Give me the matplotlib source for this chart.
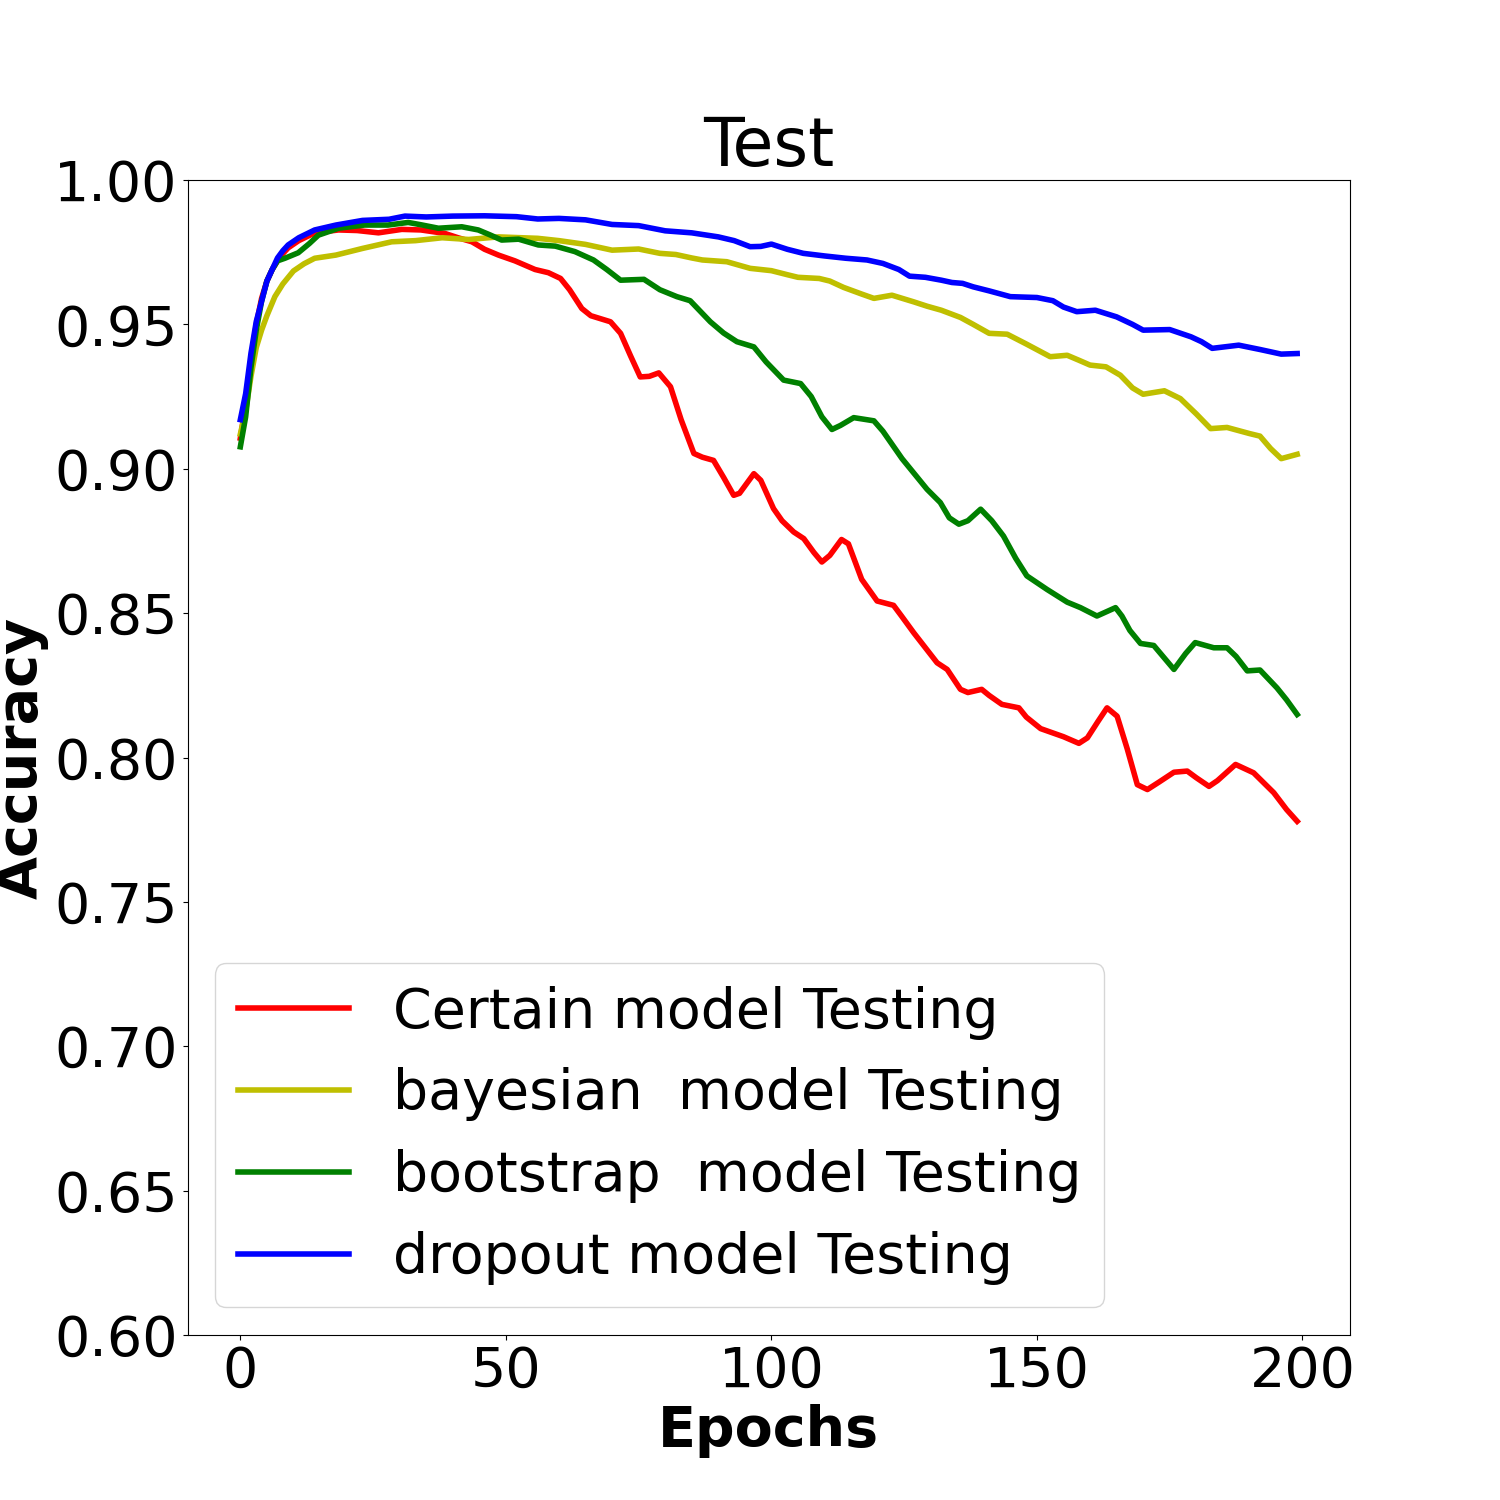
import matplotlib
matplotlib.use("Agg")
import matplotlib.pyplot as plt

# epochs / accuracy
certain_ep = [0, 1, 2, 3, 4, 5, 6, 7, 8, 9, 11, 14, 18.5, 22, 26, 30.4, 34, 38.5, 41, 43.6,
              46, 48.6, 51.7, 55.5, 58, 60.3, 62, 64.3, 66, 69.7, 71.6, 73.5, 75.3, 77, 78.8,
              81, 83, 85.4, 87, 89.1, 91, 92.9, 94, 96.7, 98, 100.4, 102, 104.2, 106.1, 108,
              109.5, 111, 113.2, 114.5, 117, 119.9, 123, 124.5, 126.8, 129, 131.2, 133.1,
              135.6, 137, 139.6, 141, 143.4, 146.6, 148, 150.7, 155, 157.9, 159.5, 161.5,
              163.2, 165.1, 167, 168.9, 170.8, 173, 175.8, 178.3, 180, 182.4, 184, 187.4,
              190.8, 194.6, 197, 199]
certain_acc = [0.9106, 0.922, 0.938, 0.950, 0.959, 0.965, 0.969, 0.972, 0.9745, 0.9765, 0.979,
               0.9817, 0.9827, 0.9825, 0.9817, 0.9829, 0.9827, 0.9815, 0.980, 0.9786, 0.976,
               0.9740, 0.9720, 0.9690, 0.9679, 0.9659, 0.962, 0.9555, 0.9530, 0.9509, 0.9469,
               0.939, 0.9318, 0.932, 0.9332, 0.9284, 0.917, 0.9053, 0.904, 0.9029, 0.897,
               0.8908, 0.8915, 0.8983, 0.896, 0.8862, 0.882, 0.8781, 0.8758, 0.871, 0.8677,
               0.8700, 0.8755, 0.874, 0.8617, 0.8542, 0.8527, 0.849, 0.8432, 0.838, 0.8328,
               0.8305, 0.8236, 0.8225, 0.8236, 0.8215, 0.8184, 0.8172, 0.814, 0.8100, 0.8072,
               0.8049, 0.8068, 0.8125, 0.8172, 0.8143, 0.803, 0.7906, 0.7889, 0.7915, 0.7949,
               0.7953, 0.793, 0.7900, 0.792, 0.7976, 0.7947, 0.7878, 0.782, 0.7779]

bayes_ep = [0, 1, 2, 3, 4, 5, 6.5, 8, 10, 12, 14, 18, 23, 28.5, 33, 38, 43, 48.6, 56, 60, 65,
            70, 75, 79, 82, 85, 87, 91.6, 96, 100, 103, 105, 109, 111, 113.6, 117, 119.3,
            122.7, 126.8, 129.3, 132, 135.6, 138, 141, 144.4, 148, 152.5, 155.7, 158, 160,
            163, 165.7, 168, 170, 174, 177, 180, 182.7, 185.8, 190, 192, 194, 196, 199]
bayes_acc = [0.912, 0.920, 0.932, 0.942, 0.948, 0.953, 0.9596, 0.964, 0.9685, 0.971, 0.9729,
             0.9740, 0.9763, 0.9786, 0.9790, 0.9800, 0.9794, 0.9803, 0.9798, 0.9790, 0.9777,
             0.9757, 0.9761, 0.9746, 0.9742, 0.973, 0.9723, 0.9717, 0.9694, 0.9686, 0.9672,
             0.9663, 0.9659, 0.965, 0.9628, 0.9605, 0.9590, 0.9601, 0.9578, 0.9563, 0.9549,
             0.9524, 0.950, 0.9469, 0.9466, 0.9432, 0.9388, 0.9393, 0.9375, 0.9359, 0.9353,
             0.9324, 0.928, 0.9258, 0.9270, 0.9243, 0.919, 0.9139, 0.9143, 0.9122, 0.9113,
             0.907, 0.9035, 0.9050]

boot_ep = [0, 1, 2, 3, 4, 5, 6, 7, 8.4, 10.9, 13, 14.7, 18.5, 23.4, 27.8, 31.6, 34, 37.3,
           41.7, 44.8, 47, 49.2, 52.4, 56.1, 59.3, 63, 66.5, 69, 71.6, 76, 79, 82.2, 84.7,
           88.5, 91, 93.5, 96.7, 99, 102.3, 105.5, 107.5, 109.5, 111.4, 113, 115.5, 119.3,
           121, 124.6, 129.3, 131.8, 133.5, 135.3, 137, 139.4, 141.5, 143.7, 146, 148.1,
           151.9, 155.7, 158.2, 161.3, 164.8, 166, 167.5, 169.5, 172, 175.8, 178, 179.8,
           183.3, 185.8, 187.5, 189.6, 192, 195.2, 197, 199]
boot_acc = [0.9076, 0.918, 0.935, 0.948, 0.958, 0.965, 0.969, 0.972, 0.9729, 0.9748, 0.978,
            0.9809, 0.9833, 0.9844, 0.9844, 0.9853, 0.9845, 0.9833, 0.9838, 0.9827, 0.981,
            0.9792, 0.9795, 0.9775, 0.9771, 0.9752, 0.9723, 0.969, 0.9653, 0.9656, 0.962,
            0.9596, 0.9582, 0.9509, 0.947, 0.9440, 0.9422, 0.937, 0.9307, 0.9295, 0.925,
            0.918, 0.9136, 0.915, 0.9177, 0.9166, 0.913, 0.9035, 0.8929, 0.8883, 0.883,
            0.8808, 0.882, 0.8860, 0.882, 0.8767, 0.869, 0.8629, 0.8582, 0.8538, 0.8519,
            0.8490, 0.8519, 0.849, 0.844, 0.8395, 0.8388, 0.8305, 0.836, 0.8398, 0.8380,
            0.8380, 0.835, 0.8300, 0.8303, 0.8241, 0.820, 0.8149]

drop_ep = [0, 1, 2, 3, 4, 5, 6, 7, 8, 9, 11, 14, 18, 23, 28, 31, 35, 40, 46, 52, 56, 60, 65,
           70, 75, 80, 85, 90, 93, 96, 98, 100, 103, 106, 110, 114, 118, 121, 124, 126, 129,
           132, 134, 136, 138, 141, 145, 150, 153, 155, 157.5, 161, 165, 168, 170, 175, 179,
           181, 183, 188, 192, 196, 199]
drop_acc = [0.917, 0.926, 0.940, 0.951, 0.958, 0.965, 0.969, 0.973, 0.9755, 0.9775, 0.980,
            0.9827, 0.9844, 0.9860, 0.9864, 0.9875, 0.9872, 0.9875, 0.9876, 0.9873, 0.9865,
            0.9867, 0.9862, 0.9846, 0.9842, 0.9824, 0.9817, 0.9803, 0.979, 0.9769, 0.977,
            0.9778, 0.976, 0.9746, 0.9737, 0.9729, 0.9723, 0.9711, 0.969, 0.9667, 0.9663,
            0.9653, 0.9645, 0.9642, 0.963, 0.9616, 0.9596, 0.9593, 0.9582, 0.956, 0.9544,
            0.9549, 0.9526, 0.950, 0.9480, 0.9482, 0.9457, 0.944, 0.9417, 0.9428, 0.9413,
            0.9397, 0.9399]

labels = ["Certain model Testing", "bayesian  model Testing",
          "bootstrap  model Testing", "dropout model Testing"]

fig, ax = plt.subplots(figsize=(15, 15), dpi=100)
ax.plot(certain_ep, certain_acc, "r", lw=4, label=labels[0])
ax.plot(bayes_ep, bayes_acc, "y", lw=4, label=labels[1])
ax.plot(boot_ep, boot_acc, "g", lw=4, label=labels[2])
ax.plot(drop_ep, drop_acc, "b", lw=4, label=labels[3])

ax.set_ylim(0.6, 1.0)
ax.set_title("Test", fontsize=48)
ax.set_xlabel("Epochs", fontsize=40, fontweight="bold")
ax.set_ylabel("Accuracy", fontsize=40, fontweight="bold")
ax.tick_params(labelsize=40)
ax.legend(fontsize=40, loc="lower left")

plt.savefig("out.png", dpi=100)
